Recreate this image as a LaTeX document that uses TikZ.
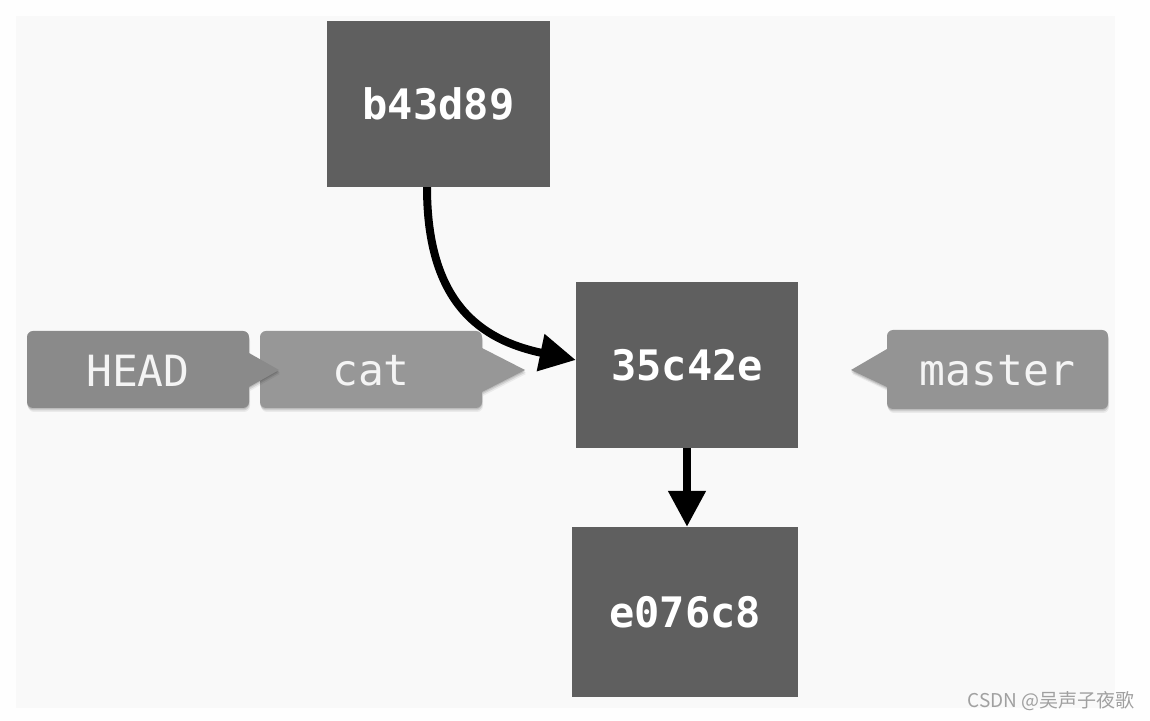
\documentclass[tikz,border=0pt]{standalone}
\usepackage{fontspec}
\newfontfamily\cmono{DejaVu Sans Mono}
\newfontfamily\cjk{Noto Sans CJK SC}
\usetikzlibrary{arrows.meta}
\definecolor{pagebg}{HTML}{FEFEFE}
\definecolor{panelbg}{HTML}{F9F9F9}
\definecolor{commitcol}{HTML}{5F5F5F}
\definecolor{headcol}{HTML}{8A8A8A}
\definecolor{catcol}{HTML}{979797}
\definecolor{mastercol}{HTML}{949494}
\definecolor{tagtext}{HTML}{F4F4F4}
\definecolor{marktext}{HTML}{A0A0A0}
\tikzset{
  commit/.style={fill=commitcol, text=white, inner sep=0pt,
    font=\cmono\bfseries\fontsize{42}{50}\selectfont},
  tagshape/.style={rounded corners=6pt,
    preaction={fill=black, fill opacity=0.06, transform canvas={shift={(1pt,-4pt)}}},
    preaction={fill=black, fill opacity=0.10, transform canvas={shift={(0.5pt,-2.5pt)}}},
    preaction={fill=black, fill opacity=0.10, transform canvas={shift={(0pt,-1.2pt)}}}},
  taglabel/.style={text=tagtext, inner sep=0pt,
    font=\cmono\fontsize{43}{50}\selectfont},
  conn/.style={line width=8pt, draw=black, -{Triangle[length=36pt,width=36pt]}},
}
\begin{document}
\begin{tikzpicture}[x=1pt,y=1pt]
\useasboundingbox (0,0) rectangle (1150,720);
\fill[pagebg] (0,0) rectangle (1150,720);
\fill[panelbg] (16,12) rectangle (1115,704);

% commits
\node[commit, minimum width=223pt, minimum height=166pt] (b) at (438.5,616) {b43d89};
\node[commit, minimum width=222pt, minimum height=166pt] (c) at (687,355) {35c42e};
\node[commit, minimum width=226pt, minimum height=170pt] (e) at (685,108) {e076c8};

% cat tag
\path[tagshape, fill=catcol] (260,312) -- (260,389) -- (482,389)
  [sharp corners] -- (482,372) -- (525,350) -- (482,328) [rounded corners=6pt] -- (482,312) -- cycle;
\node[taglabel] (cat) at (371,349) {cat};

% HEAD tag
\path[tagshape, fill=headcol] (27,312) -- (27,389) -- (249,389)
  [sharp corners] -- (249,367) -- (279,350) -- (249,333) [rounded corners=6pt] -- (249,312) -- cycle;
\node[taglabel] (head) at (138,349) {HEAD};

% master tag
\path[tagshape, fill=mastercol] (1108,311) -- (1108,390) -- (887,390)
  [sharp corners] -- (887,371) -- (851,350) -- (887,333) [rounded corners=6pt] -- (887,311) -- cycle;
\node[taglabel] (master) at (997.5,349) {master};

% connectors
\draw[conn] ([xshift=-11.5pt]b.south) .. controls ++(0,-115) and (480,380) .. ([yshift=5pt]c.west);
\draw[conn] (c.south) -- (c.south |- e.north);

% watermark
\node[anchor=base east, inner sep=0pt, text=marktext, font=\cjk\fontsize{19}{22}\selectfont] (mark) at (1135,13) {CSDN @吴声子夜歌};
\end{tikzpicture}
\end{document}
